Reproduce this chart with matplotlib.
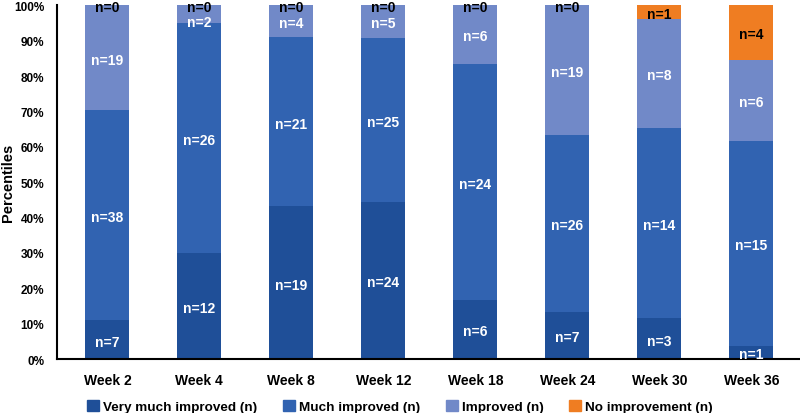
import matplotlib.pyplot as plt
import matplotlib.patches as patches
import numpy as np

plt.rcParams['font.family'] = ['Liberation Sans', 'DejaVu Sans']
plt.rcParams['font.weight'] = 'bold'

weeks = ["Week 2", "Week 4", "Week 8", "Week 12", "Week 18", "Week 24", "Week 30", "Week 36"]
very_much = [7, 12, 19, 24, 6, 7, 3, 1]
much = [38, 26, 21, 25, 24, 26, 14, 15]
improved = [19, 2, 4, 5, 6, 19, 8, 6]
no_improvement = [0, 0, 0, 0, 0, 0, 1, 4]

series = [very_much, much, improved, no_improvement]
names = ["Very much improved (n)", "Much improved (n)", "Improved (n)", "No improvement (n)"]
colors = ["#1f4f98", "#3163b1", "#7189c8", "#ef7d22"]
text_colors = ["white", "white", "white", "black"]

counts = np.array(series, dtype=float)
totals = counts.sum(axis=0)
pct = counts / totals * 100

fig = plt.figure(figsize=(8, 4.14), dpi=100)
ax = fig.add_axes([0.071, 0.13, 0.929, 0.855])

x = np.arange(len(weeks))
bottom = np.zeros(len(weeks))
for i in range(len(series)):
    ax.bar(x, pct[i], 0.48, bottom=bottom, color=colors[i], linewidth=0)
    for j in range(len(weeks)):
        n = series[i][j]
        if n == 0:
            continue
        y = bottom[j] + pct[i][j] / 2 - 0.5
        if no_improvement[j] == 0:
            # keep labels of thin top segments clear of the n=0 label above
            y = min(y, 95.3)
        ax.text(x[j], y, "n=%d" % n, ha="center", va="center",
                color=text_colors[i], fontsize=10, fontweight="bold", clip_on=False)
    bottom = bottom + pct[i]

# n=0 labels sit on top of the bars that have no "no improvement"
for j in range(len(weeks)):
    if no_improvement[j] == 0:
        ax.text(x[j], 99.5, "n=0", ha="center", va="center", color="black",
                fontsize=10, fontweight="bold", clip_on=False)

ax.set_ylim(0, 100)
ax.set_xlim(-0.55, 7.53)
ax.set_yticks(np.arange(0, 101, 10))
ax.set_yticklabels(["%d%%" % v for v in range(0, 101, 10)], fontsize=8.5, fontweight="bold")
ax.set_xticks(x)
ax.set_xticklabels(weeks, fontsize=10, fontweight="bold")
ax.tick_params(axis="both", length=0)
ax.tick_params(axis="x", pad=10)
ax.tick_params(axis="y", pad=9)
ax.set_ylabel("Percentiles", fontsize=10.5, fontweight="bold")
ax.yaxis.set_label_coords(-0.056, 0.5)

for side in ["top", "right"]:
    ax.spines[side].set_visible(False)
for side in ["left", "bottom"]:
    ax.spines[side].set_linewidth(1.5)
    ax.spines[side].set_color("black")

handles = [patches.Patch(color=colors[i], label=names[i]) for i in range(4)]
fig.legend(handles=handles, loc="lower center", ncol=4, frameon=False,
           bbox_to_anchor=(0.5, -0.03), prop={"size": 9.7, "weight": "bold"},
           handlelength=0.9, handleheight=0.9, handletextpad=0.3, columnspacing=1.9)

plt.savefig("out.png", dpi=100)
